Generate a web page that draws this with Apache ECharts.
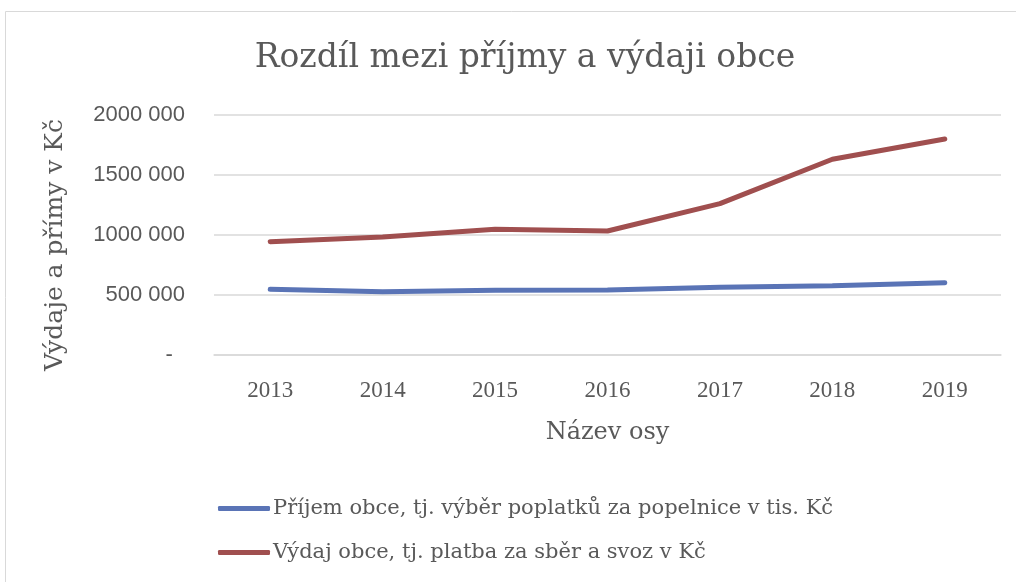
<!DOCTYPE html>
<html><head><meta charset="utf-8">
<script src="https://cdn.jsdelivr.net/npm/echarts@6/dist/echarts.min.js"></script>
<style>html,body{margin:0;padding:0;background:#fff}#c{width:1016px;height:582px}</style>
</head><body><div id="c"></div>
<script>
const categories = ['2013','2014','2015','2016','2017','2018','2019'];
const prijem = [547000, 528000, 539000, 542000, 564000, 578000, 603000];
const vydaj = [944000, 983000, 1047000, 1033000, 1261000, 1631000, 1800000];
const seriesNames = ['Příjem obce, tj. výběr poplatků za popelnice v tis. Kč', 'Výdaj obce, tj. platba za sběr a svoz v Kč'];
const yTickLabels = {0:'-  ', 500000:'500 000', 1000000:'1000 000', 1500000:'1500 000', 2000000:'2000 000'};
const SERIF = 'DejaVu Serif';
const TXT = '#595959';
const chart = echarts.init(document.getElementById('c'));
chart.setOption({
  animation:false,
  textStyle:{fontFamily:SERIF},
  title:{text:'Rozdíl mezi příjmy a výdaji obce', left:520, textAlign:'center', top:37, textStyle:{fontFamily:SERIF,fontSize:33,fontWeight:'normal',color:TXT}},
  graphic:[{type:'rect', shape:{x:5.5,y:11.5,width:1030,height:600}, style:{fill:'none',stroke:'#d9d9d9',lineWidth:1}, silent:true}],
  grid:{left:214, right:15, top:115, bottom:227},
  xAxis:{type:'category', data:categories, boundaryGap:true,
    name:'Název osy', nameLocation:'middle', nameGap:66,
    nameTextStyle:{fontFamily:SERIF,fontSize:24,color:TXT},
    axisLine:{lineStyle:{color:'#d9d9d9',width:1.5}}, axisTick:{length:9,lineStyle:{color:'#d9d9d9',width:1.5}},
    axisLabel:{fontFamily:'Liberation Serif',fontSize:23,color:TXT,margin:24}},
  yAxis:{type:'value', min:0, max:2000000, interval:500000,
    name:'Výdaje a přímy v Kč', nameLocation:'middle', nameGap:146, nameRotate:90,
    nameTextStyle:{fontFamily:SERIF,fontSize:25,color:TXT,padding:[0,20,0,0]},
    axisLine:{show:false}, axisTick:{show:false},
    splitLine:{lineStyle:{color:'#d9d9d9',width:1.5}},
    axisLabel:{fontFamily:'Liberation Sans',fontSize:22,color:TXT,margin:29,formatter:v=>yTickLabels[v]}},
  legend:{orient:'vertical', left:213, top:493, itemWidth:52, itemHeight:5, itemGap:23, icon:'roundRect',
    textStyle:{fontFamily:SERIF,fontSize:21,color:TXT,padding:[0,0,0,-2]}, data:seriesNames},
  series:[
    {name:seriesNames[0], type:'line', data:prijem, symbol:'none', lineStyle:{width:5,color:'#5a74b6',cap:'round'}, itemStyle:{color:'#5a74b6'}},
    {name:seriesNames[1], type:'line', data:vydaj, symbol:'none', lineStyle:{width:5,color:'#a04f4f',cap:'round'}, itemStyle:{color:'#a04f4f'}}
  ]
});
</script></body></html>
